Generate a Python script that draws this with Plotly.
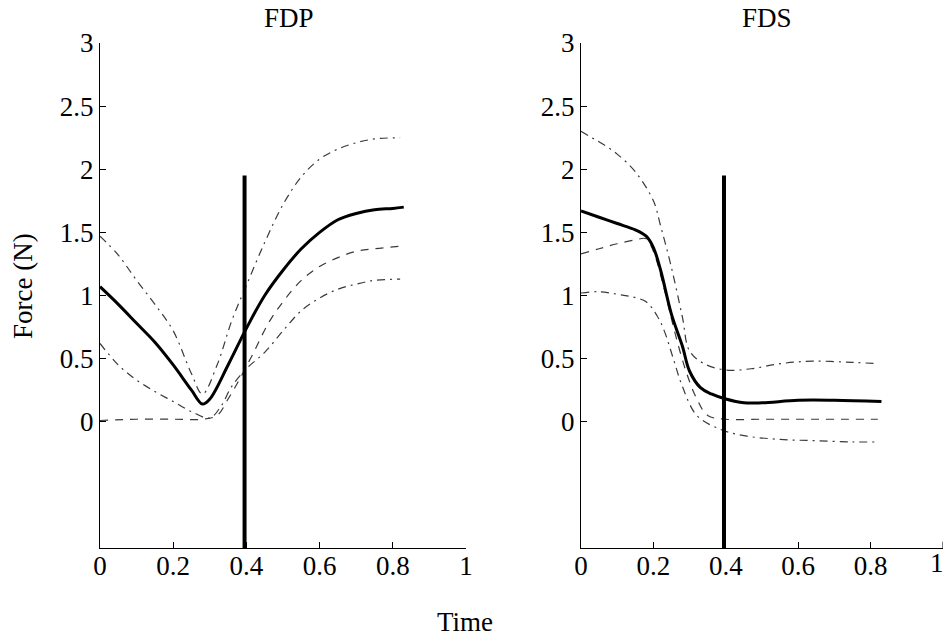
import plotly.graph_objects as go

# ---------------- data ----------------
# FDP panel
fdp_mean_x = [0, 0.05, 0.1, 0.15, 0.2, 0.25, 0.28, 0.3, 0.35, 0.4, 0.45, 0.5, 0.55, 0.6, 0.65, 0.7, 0.75, 0.8, 0.83]
fdp_mean_y = [1.07, 0.93, 0.78, 0.63, 0.45, 0.25, 0.14, 0.18, 0.45, 0.74, 1.0, 1.2, 1.37, 1.5, 1.6, 1.65, 1.68, 1.69, 1.70]

fdp_up_x = [0, 0.05, 0.1, 0.15, 0.2, 0.25, 0.28, 0.32, 0.36, 0.4, 0.45, 0.5, 0.55, 0.6, 0.65, 0.7, 0.75, 0.82]
fdp_up_y = [1.47, 1.32, 1.12, 0.93, 0.72, 0.38, 0.22, 0.45, 0.8, 1.08, 1.42, 1.72, 1.94, 2.08, 2.16, 2.21, 2.24, 2.25]

fdp_lo_x = [0, 0.05, 0.1, 0.15, 0.2, 0.25, 0.3, 0.33, 0.36, 0.4, 0.45, 0.5, 0.55, 0.6, 0.65, 0.7, 0.75, 0.82]
fdp_lo_y = [0.62, 0.45, 0.33, 0.24, 0.16, 0.08, 0.03, 0.12, 0.28, 0.42, 0.55, 0.72, 0.88, 0.98, 1.05, 1.09, 1.12, 1.13]

fdp_dash_x = [0, 0.1, 0.2, 0.28, 0.32, 0.35, 0.38, 0.42, 0.46, 0.5, 0.55, 0.6, 0.65, 0.7, 0.75, 0.82]
fdp_dash_y = [0.01, 0.02, 0.02, 0.02, 0.05, 0.18, 0.33, 0.55, 0.78, 0.95, 1.12, 1.23, 1.3, 1.35, 1.37, 1.39]

# FDS panel
fds_mean_x = [0, 0.05, 0.1, 0.15, 0.18, 0.2, 0.22, 0.25, 0.28, 0.3, 0.33, 0.36, 0.4, 0.45, 0.5, 0.6, 0.7, 0.83]
fds_mean_y = [1.67, 1.62, 1.57, 1.52, 1.47, 1.38, 1.2, 0.85, 0.6, 0.4, 0.27, 0.22, 0.18, 0.15, 0.15, 0.17, 0.17, 0.16]

fds_up_x = [0, 0.03, 0.06, 0.1, 0.15, 0.2, 0.22, 0.25, 0.28, 0.3, 0.34, 0.4, 0.47, 0.55, 0.64, 0.75, 0.82]
fds_up_y = [2.3, 2.25, 2.2, 2.12, 1.98, 1.75, 1.55, 1.22, 0.83, 0.56, 0.46, 0.41, 0.42, 0.46, 0.48, 0.47, 0.46]

fds_lo_x = [0, 0.05, 0.1, 0.14, 0.18, 0.21, 0.23, 0.255, 0.28, 0.32, 0.385, 0.45, 0.55, 0.65, 0.75, 0.82]
fds_lo_y = [1.02, 1.03, 1.01, 0.99, 0.95, 0.84, 0.72, 0.50, 0.28, 0.05, -0.06, -0.11, -0.14, -0.15, -0.16, -0.16]

fds_dash_x = [0, 0.05, 0.1, 0.15, 0.18, 0.2, 0.23, 0.26, 0.29, 0.32, 0.35, 0.4, 0.5, 0.6, 0.7, 0.82]
fds_dash_y = [1.33, 1.37, 1.41, 1.44, 1.45, 1.35, 1.05, 0.7, 0.4, 0.18, 0.05, 0.02, 0.02, 0.02, 0.02, 0.02]

# vertical marker (time, bottom, top)
marker_x = [0.395, 0.395]
marker_y = [-1, 1.95]

titles = ["FDP", "FDS"]
y_ticks = [0, 0.5, 1, 1.5, 2, 2.5, 3]
y_tick_labels = ["0", "0.5", "1", "1.5", "2", "2.5", "3"]
x_ticks = [0, 0.2, 0.4, 0.6, 0.8, 1]
x_tick_labels = ["0", "0.2", "0.4", "0.6", "0.8", "1"]

# ---------------- figure ----------------
FONT = "Liberation Serif, Times New Roman, serif"
FS = 27
DASHDOT = "8px,5px,2px,5px"
DASH = "8px,7px"
fig = go.Figure()

panels = [
    ("x", "y", fdp_mean_x, fdp_mean_y, fdp_up_x, fdp_up_y, fdp_lo_x, fdp_lo_y, fdp_dash_x, fdp_dash_y),
    ("x2", "y2", fds_mean_x, fds_mean_y, fds_up_x, fds_up_y, fds_lo_x, fds_lo_y, fds_dash_x, fds_dash_y),
]
for xa, ya, mx, my, ux, uy, lx, ly, dx, dy in panels:
    fig.add_trace(go.Scatter(x=ux, y=uy, xaxis=xa, yaxis=ya, mode="lines",
                             line=dict(color="#3a3a3a", width=1.2, dash=DASHDOT, shape="spline")))
    fig.add_trace(go.Scatter(x=lx, y=ly, xaxis=xa, yaxis=ya, mode="lines",
                             line=dict(color="#3a3a3a", width=1.2, dash=DASHDOT, shape="spline")))
    fig.add_trace(go.Scatter(x=dx, y=dy, xaxis=xa, yaxis=ya, mode="lines",
                             line=dict(color="#3a3a3a", width=1.2, dash=DASH, shape="spline")))
    fig.add_trace(go.Scatter(x=mx, y=my, xaxis=xa, yaxis=ya, mode="lines",
                             line=dict(color="black", width=3, shape="spline")))
    fig.add_trace(go.Scatter(x=marker_x, y=marker_y, xaxis=xa, yaxis=ya, mode="lines",
                             line=dict(color="black", width=4)))

W, H = 946, 636
xdom1 = [100 / W, 466 / W]
xdom2 = [581 / W, 943 / W]
ydom = [1 - 548 / H, 1 - 43 / H]

axis_common = dict(showgrid=False, zeroline=False, showline=True, linecolor="black",
                   linewidth=1, ticks="inside", ticklen=6, tickcolor="black",
                   tickfont=dict(family=FONT, size=FS, color="black"), automargin=False)

txt_font = dict(family=FONT, size=FS, color="black")
fig.update_layout(
    width=W, height=H,
    margin=dict(l=0, r=0, t=0, b=0),
    paper_bgcolor="white", plot_bgcolor="white",
    showlegend=False,
    xaxis=dict(domain=xdom1, range=[0, 1], anchor="y", tickvals=x_ticks, ticktext=x_tick_labels,
               ticklabelstandoff=-6, **axis_common),
    yaxis=dict(domain=ydom, range=[-1, 3], anchor="x", tickvals=y_ticks, ticktext=y_tick_labels,
               ticklabelstandoff=0, **axis_common),
    xaxis2=dict(domain=xdom2, range=[0, 1], anchor="y2", tickvals=x_ticks[:-1], ticktext=x_tick_labels[:-1],
                ticklabelstandoff=-6, **axis_common),
    yaxis2=dict(domain=ydom, range=[-1, 3], anchor="x2", tickvals=y_ticks, ticktext=y_tick_labels,
                ticklabelstandoff=0, **axis_common),
    annotations=[
        dict(text=titles[0], x=289 / W, y=1 - 18 / H, xref="paper", yref="paper", showarrow=False,
             font=txt_font, xanchor="center", yanchor="middle"),
        dict(text=titles[1], x=767 / W, y=1 - 18 / H, xref="paper", yref="paper", showarrow=False,
             font=txt_font, xanchor="center", yanchor="middle"),
        dict(text="Force (N)", x=23 / W, y=1 - 286 / H, xref="paper", yref="paper", showarrow=False,
             textangle=-90, font=txt_font, xanchor="center", yanchor="middle"),
        dict(text="Time", x=465 / W, y=1 - 622 / H, xref="paper", yref="paper", showarrow=False,
             font=txt_font, xanchor="center", yanchor="middle"),
        # last x tick label of the right panel, kept inside the page edge
        dict(text=x_tick_labels[-1], x=1, y=1 - 546 / H, xref="paper", yref="paper",
             showarrow=False, font=txt_font, xanchor="right", yanchor="top"),
    ],
)
# tick mark at x=1 for the right panel
fig.add_shape(type="line", xref="x2", yref="y2", x0=1, x1=1, y0=-1, y1=-0.95,
              line=dict(color="black", width=1))

fig.write_html("out.html")
